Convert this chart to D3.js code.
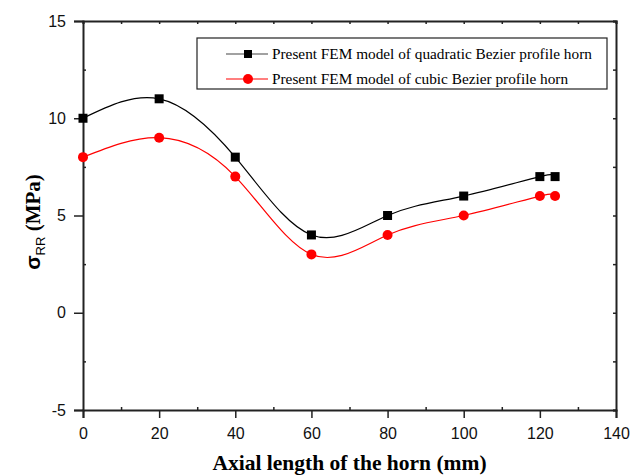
<!DOCTYPE html>
<html>
<head>
<meta charset="utf-8">
<script src="https://cdn.jsdelivr.net/npm/d3@7"></script>
<style>
  body { margin: 0; background: #fff; }
  svg { display: block; }
</style>
</head>
<body>
<div id="chart"></div>
<script>
// data
var xValues = [0, 20, 40, 60, 80, 100, 120, 124];
var quadratic = [10, 11, 8, 4, 5, 6, 7, 7];
var cubic = [8, 9, 7, 3, 4, 5, 6, 6];
var seriesNames = ["Present FEM model of quadratic Bezier profile horn",
                   "Present FEM model of cubic Bezier profile horn"];
var xTicks = [0, 20, 40, 60, 80, 100, 120, 140];
var yTicks = [-5, 0, 5, 10, 15];

var svgWidth = 642;
var svgHeight = 476;
var margin = { top: 21, right: 26, bottom: 66, left: 83 };
var chartWidth = svgWidth - margin.left - margin.right;
var chartHeight = svgHeight - margin.top - margin.bottom;

var svg = d3.select("#chart")
    .append("svg")
        .attr("width", svgWidth)
        .attr("height", svgHeight);

var g = svg.append("g")
    .attr("transform", `translate(${margin.left}, ${margin.top})`);

var xScale = d3.scaleLinear().domain([0, 140]).range([0, chartWidth]);
var yScale = d3.scaleLinear().domain([-5, 15]).range([chartHeight, 0]);

var tickFont = "'Liberation Sans', Arial, sans-serif";
var serif = "'Liberation Serif', 'Times New Roman', serif";
var fmt = function (d) { return String(d); }; // plain hyphen for negatives

// minor ticks (inside)
var xMinor = d3.range(10, 140, 20);
var yMinor = d3.range(-2.5, 15, 5);

// bottom axis
var xAxis = g.append("g")
    .attr("transform", `translate(0, ${chartHeight})`)
    .call(d3.axisBottom(xScale).tickValues(xTicks).tickSize(8).tickPadding(10).tickFormat(fmt));
xAxis.selectAll("text").attr("font-size", 16).attr("font-family", tickFont).attr("fill", "#111");

// left axis
var yAxis = g.append("g")
    .call(d3.axisLeft(yScale).tickValues(yTicks).tickSize(9).tickPadding(8).tickFormat(fmt));
yAxis.selectAll("text").attr("font-size", 16).attr("font-family", tickFont).attr("fill", "#111");

[xAxis, yAxis].forEach(function (a) {
    a.select(".domain").attr("stroke", "#222").attr("stroke-width", 2);
    a.selectAll(".tick line").attr("stroke", "#222").attr("stroke-width", 1.5);
});

// top and right axes with inward ticks
var topAxis = g.append("g")
    .call(d3.axisBottom(xScale).tickValues(d3.range(0, 141, 10)).tickSize(3).tickFormat(""));
var rightAxis = g.append("g")
    .attr("transform", `translate(${chartWidth}, 0)`)
    .call(d3.axisLeft(yScale).tickValues(d3.range(-5, 15.1, 2.5)).tickSize(3).tickFormat(""));
[topAxis, rightAxis].forEach(function (a) {
    a.select(".domain").attr("stroke", "#222").attr("stroke-width", 2);
    a.selectAll(".tick line").attr("stroke", "#222").attr("stroke-width", 1.5);
});

// inward minor ticks on bottom and left
g.append("g").attr("transform", `translate(0, ${chartHeight})`)
    .call(d3.axisTop(xScale).tickValues(xMinor).tickSize(3).tickFormat(""))
    .call(function (s) { s.select(".domain").remove(); s.selectAll("line").attr("stroke", "#222").attr("stroke-width", 1.5); });
g.append("g")
    .call(d3.axisRight(yScale).tickValues(yMinor).tickSize(3).tickFormat(""))
    .call(function (s) { s.select(".domain").remove(); s.selectAll("line").attr("stroke", "#222").attr("stroke-width", 1.5); });

// series
var line = d3.line()
    .x(function (d) { return xScale(d[0]); })
    .y(function (d) { return yScale(d[1]); })
    .curve(d3.curveNatural);

var quadData = xValues.map(function (x, i) { return [x, quadratic[i]]; });
var cubicData = xValues.map(function (x, i) { return [x, cubic[i]]; });

g.append("path").datum(quadData)
    .attr("fill", "none").attr("stroke", "#000").attr("stroke-width", 1.2)
    .attr("d", line);
g.append("path").datum(cubicData)
    .attr("fill", "none").attr("stroke", "#f00").attr("stroke-width", 1.2)
    .attr("d", line);

g.selectAll(".sq").data(quadData).enter().append("rect")
    .attr("x", function (d) { return xScale(d[0]) - 4.5; })
    .attr("y", function (d) { return yScale(d[1]) - 4.5; })
    .attr("width", 9).attr("height", 9)
    .attr("fill", "#000");
g.selectAll(".ci").data(cubicData).enter().append("circle")
    .attr("cx", function (d) { return xScale(d[0]); })
    .attr("cy", function (d) { return yScale(d[1]); })
    .attr("r", 5)
    .attr("fill", "#f00");

// legend
var legend = svg.append("g").attr("transform", "translate(197, 38)");
legend.append("rect")
    .attr("width", 410).attr("height", 51)
    .attr("fill", "#fff").attr("stroke", "#222").attr("stroke-width", 1.2);
var rows = [
    { name: seriesNames[0], color: "#000", shape: "square" },
    { name: seriesNames[1], color: "#f00", shape: "circle" }
];
rows.forEach(function (r, i) {
    var y = 16 + i * 25;
    legend.append("line")
        .attr("x1", 29).attr("x2", 71).attr("y1", y).attr("y2", y)
        .attr("stroke", r.color === "#000" ? "#444" : "#f00").attr("stroke-width", 1.2);
    if (r.shape === "square") {
        legend.append("rect").attr("x", 47).attr("y", y - 4).attr("width", 8).attr("height", 8).attr("fill", r.color);
    } else {
        legend.append("circle").attr("cx", 51).attr("cy", y).attr("r", 5).attr("fill", r.color);
    }
    legend.append("text")
        .attr("x", 75).attr("y", y + 5)
        .attr("font-family", serif).attr("font-size", 15.3)
        .attr("fill", "#000")
        .text(r.name);
});

// axis titles
svg.append("text")
    .attr("x", margin.left + chartWidth / 2).attr("y", 470)
    .attr("text-anchor", "middle")
    .attr("font-family", serif).attr("font-weight", "bold").attr("font-size", 21.5)
    .text("Axial length of the horn (mm)");

var yTitle = svg.append("text")
    .attr("transform", "translate(40, 222) rotate(-90)")
    .attr("text-anchor", "middle")
    .attr("font-family", serif).attr("font-weight", "bold").attr("font-size", 21);
yTitle.append("tspan").attr("font-family", tickFont).text("σ");
yTitle.append("tspan").attr("dy", 5).attr("font-size", 13).attr("font-weight", "normal")
    .attr("font-family", tickFont).text("RR");
yTitle.append("tspan").attr("dy", -5).text(" (MPa)");
</script>
</body>
</html>
